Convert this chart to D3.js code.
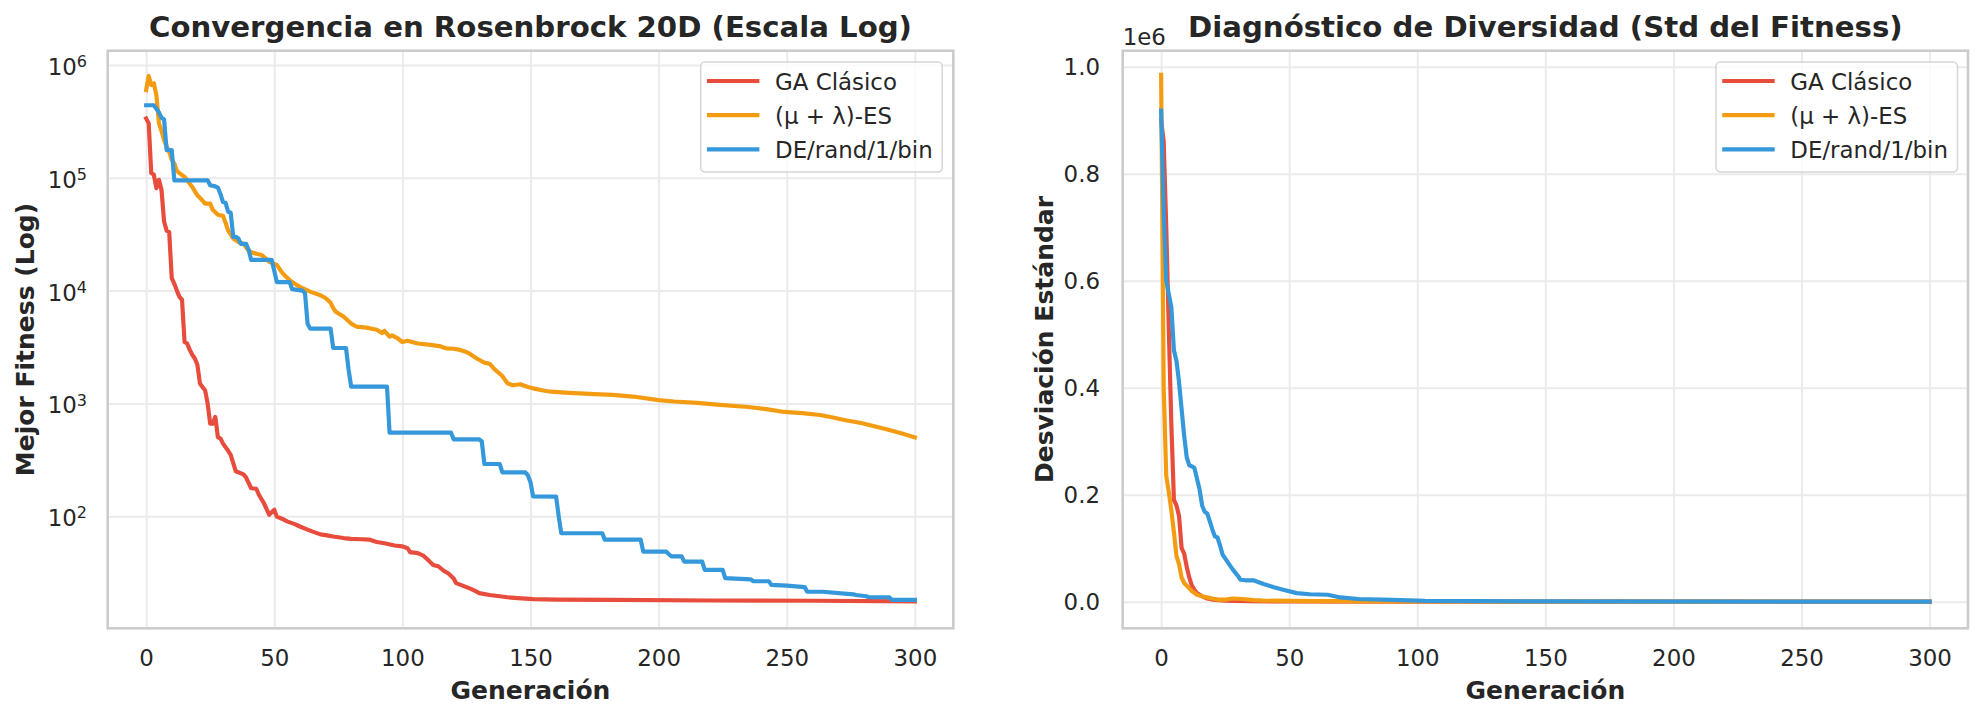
<!DOCTYPE html>
<html>
<head>
<meta charset="utf-8">
<script src="https://cdn.jsdelivr.net/npm/d3@7"></script>
<style>
  body { margin: 0; background: #fff; }
  text { font-family: "DejaVu Sans", sans-serif; fill: #262626; }
</style>
</head>
<body>
<div id="chart"></div>
<script>
// ---- datos ----
const series = ["GA Clásico", "(μ + λ)-ES", "DE/rand/1/bin"];
const colores = ["#e74c3c", "#f39c12", "#3498db"];

const xTicks = [0, 50, 100, 150, 200, 250, 300];
const logTicks = [1e2, 1e3, 1e4, 1e5, 1e6];
const logTickExp = ["2", "3", "4", "5", "6"];
const stdTicks = [0, 0.2, 0.4, 0.6, 0.8, 1.0];
const stdTickLabels = ["0.0", "0.2", "0.4", "0.6", "0.8", "1.0"];

// mejor fitness por generación [gen, valor]
const gaMejor = [[0,3.36e5],[1,3.04e5],[2,1.1e5],[3,1.07e5],[4,8.1e4],[5,9.6e4],[6,7.8e4],[7,4.1e4],[8,3.4e4],[9,3.3e4],[10,1.29e4],[11,1.15e4],[12,1.0e4],[13,8.8e3],[14,8.3e3],[15,3.5e3],[16,3.4e3],[17,3.0e3],[18,2.7e3],[19,2.5e3],[20,2.2e3],[21,1.5e3],[22,1.4e3],[23,1.31e3],[24,1.0e3],[25,660],[26,660],[27,760],[28,500],[29,490],[30,440],[32,380],[33,350],[35,250],[38,235],[39,220],[41,177],[43,175],[44,155],[46,130],[48,103],[50,114],[51,99],[53,95],[55,90],[58,85],[60,81],[63,76],[65,73],[68,69],[70,68],[73,66],[77,64],[80,63],[84,62.5],[87,62],[90,59],[93,57.5],[97,55],[100,54],[102,52],[103,48],[106,47],[108,45],[110,41],[112,37],[114,36],[116,33],[118,31],[120,28],[121,25.5],[123,24.5],[126,23],[128,22],[130,20.8],[134,20],[138,19.5],[141,19.1],[145,18.8],[151,18.4],[160,18.2],[182,18.1],[220,17.9],[260,17.8],[300,17.6]];
const esMejor = [[0,6.0e5],[1,8.0e5],[2,6.65e5],[3,6.9e5],[4,5.4e5],[5,3.04e5],[6,2.6e5],[7,2.16e5],[8,1.9e5],[9,1.7e5],[10,1.45e5],[11,1.34e5],[12,1.15e5],[13,1.1e5],[15,1.02e5],[16,9.5e4],[18,8.3e4],[20,7.0e4],[22,6.3e4],[23,5.9e4],[25,5.9e4],[26,5.2e4],[28,4.7e4],[30,4.6e4],[31,4.0e4],[32,3.4e4],[34,2.9e4],[36,2.7e4],[38,2.6e4],[40,2.25e4],[42,2.15e4],[45,2.07e4],[47,1.9e4],[48,1.8e4],[51,1.69e4],[53,1.45e4],[54,1.37e4],[56,1.24e4],[58,1.15e4],[60,1.08e4],[64,9.8e3],[68,9.1e3],[70,8.6e3],[72,7.8e3],[73,7.0e3],[74,6.5e3],[77,5.9e3],[80,5.1e3],[82,4.8e3],[86,4.7e3],[90,4.5e3],[92,4.2e3],[93,4.4e3],[95,3.9e3],[96,4.0e3],[98,3.8e3],[100,3.5e3],[102,3.6e3],[106,3.4e3],[111,3.3e3],[115,3.2e3],[117,3.08e3],[120,3.05e3],[122,3.0e3],[125,2.85e3],[126,2.78e3],[129,2.5e3],[132,2.3e3],[134,2.25e3],[136,2.0e3],[139,1.75e3],[141,1.51e3],[143,1.45e3],[146,1.48e3],[149,1.4e3],[151,1.36e3],[155,1.3e3],[158,1.27e3],[165,1.24e3],[175,1.21e3],[182,1.19e3],[190,1.15e3],[200,1.07e3],[206,1.04e3],[215,1.01e3],[224,970],[235,930],[242,890],[249,840],[256,820],[263,790],[268,750],[273,710],[279,670],[285,620],[290,580],[295,540],[300,500]];
const deMejor = [[0,4.4e5],[3,4.4e5],[4,4.1e5],[5,3.8e5],[6,3.4e5],[7,3.3e5],[8,1.76e5],[10,1.76e5],[11,9.5e4],[24,9.5e4],[25,8.6e4],[27,8.4e4],[28,8.2e4],[29,7.2e4],[30,6.1e4],[31,6.0e4],[32,5.0e4],[33,4.9e4],[34,3.0e4],[35,3.0e4],[36,2.9e4],[37,2.6e4],[39,2.6e4],[40,2.3e4],[41,1.87e4],[49,1.87e4],[50,1.5e4],[51,1.19e4],[56,1.19e4],[57,1.03e4],[61,1.0e4],[62,9.5e3],[63,5.1e3],[64,4.6e3],[72,4.6e3],[73,3.1e3],[78,3.1e3],[79,2.0e3],[80,1.41e3],[94,1.41e3],[95,550],[119,550],[120,480],[130,480],[131,460],[132,290],[138,290],[139,245],[148,245],[149,230],[150,200],[151,150],[160,149],[161,100],[162,70.6],[178,70.6],[179,62],[193,62],[194,48.5],[203,48.5],[204,46],[205,44],[209,44],[210,39.6],[217,39.6],[218,33.4],[225,33.4],[226,28.2],[236,27.5],[237,26.5],[243,26.5],[244,24.6],[250,24.2],[257,23.5],[258,21.4],[264,21.4],[276,20.3],[277,20],[281,19.5],[282,19.1],[290,19.1],[291,18.1],[300,18.1]];

// desviación estándar del fitness (unidades de 1e6)
const gaStd = [[0,0.90],[1,0.86],[2,0.70],[3,0.51],[4,0.33],[5,0.19],[6,0.18],[7,0.16],[8,0.10],[9,0.09],[10,0.065],[11,0.045],[12,0.03],[13,0.022],[14,0.016],[16,0.01],[18,0.006],[20,0.004],[25,0.002],[35,0.001],[50,0.0005],[100,0.0002],[300,0.0]];
const esStd = [[0,0.985],[1,0.40],[2,0.235],[3,0.205],[4,0.17],[5,0.13],[6,0.085],[7,0.07],[8,0.045],[9,0.035],[10,0.03],[12,0.02],[14,0.013],[17,0.009],[20,0.006],[22,0.004],[25,0.004],[28,0.006],[32,0.005],[36,0.003],[40,0.002],[60,0.001],[100,0.0003],[300,0.0]];
const deStd = [[0,0.918],[1,0.73],[2,0.60],[3,0.575],[4,0.55],[5,0.47],[6,0.45],[7,0.41],[8,0.36],[9,0.31],[10,0.27],[11,0.255],[12,0.253],[13,0.25],[14,0.23],[15,0.21],[16,0.18],[17,0.168],[18,0.165],[19,0.15],[20,0.135],[21,0.122],[22,0.12],[23,0.105],[24,0.088],[26,0.074],[28,0.06],[30,0.048],[31,0.041],[33,0.04],[36,0.04],[40,0.033],[44,0.027],[48,0.022],[53,0.016],[58,0.014],[65,0.013],[70,0.008],[77,0.005],[90,0.0035],[103,0.0015],[150,0.0005],[300,0.0]];

// ---- dibujo ----
const W = 1982, H = 718;
const FS = 22.9;
const svg = d3.select('#chart').append('svg')
  .attr('width', W).attr('height', H)
  .attr('viewBox', `0 0 ${W} ${H}`);

const paneles = [
  {
    id: 'izq', x0: 107.7, x1: 953.3, y0: 50.7, y1: 628.3,
    y: d3.scaleLog().domain([10.14, 1.34e6]),
    ticks: logTicks, datos: [gaMejor, esMejor, deMejor],
    titulo: 'Convergencia en Rosenbrock 20D (Escala Log)',
    yLabel: 'Mejor Fitness (Log)', yLabelX: 25, legX: 700.7
  },
  {
    id: 'der', x0: 1122.7, x1: 1968, y0: 50.7, y1: 628.3,
    y: d3.scaleLinear().domain([-0.04972, 1.02991]),
    ticks: stdTicks, datos: [gaStd, esStd, deStd],
    titulo: 'Diagnóstico de Diversidad (Std del Fitness)',
    yLabel: 'Desviación Estándar', yLabelX: 1044, legX: 1716
  }
];

paneles.forEach(p => {
  const x = d3.scaleLinear().domain([-15, 315]).range([p.x0, p.x1]);
  const y = p.y.range([p.y1, p.y0]);
  const g = svg.append('g');
  const alto = p.y1 - p.y0, ancho = p.x1 - p.x0;

  // rejilla
  g.append('g').attr('transform', `translate(0,${p.y1})`)
    .call(d3.axisBottom(x).tickValues(xTicks).tickSize(-alto).tickFormat(''))
    .call(s => s.select('.domain').remove())
    .call(s => s.selectAll('line').attr('stroke', '#ebebeb').attr('stroke-width', 2));
  g.append('g').attr('transform', `translate(${p.x0},0)`)
    .call(d3.axisLeft(y).tickValues(p.ticks).tickSize(-ancho).tickFormat(''))
    .call(s => s.select('.domain').remove())
    .call(s => s.selectAll('line').attr('stroke', '#ebebeb').attr('stroke-width', 2));

  // líneas
  g.append('clipPath').attr('id', 'clip-' + p.id)
    .append('rect').attr('x', p.x0).attr('y', p.y0).attr('width', ancho).attr('height', alto);
  const linea = d3.line().x(d => x(d[0])).y(d => y(d[1]));
  g.append('g').attr('clip-path', `url(#clip-${p.id})`)
    .selectAll('path').data(p.datos).enter().append('path')
    .attr('d', linea)
    .attr('fill', 'none')
    .attr('stroke', (d, i) => colores[i])
    .attr('stroke-width', 4.17)
    .attr('stroke-linejoin', 'round')
    .attr('stroke-linecap', 'square');

  // marco
  g.append('rect').attr('x', p.x0).attr('y', p.y0).attr('width', ancho).attr('height', alto)
    .attr('fill', 'none').attr('stroke', '#cccccc').attr('stroke-width', 2.6);

  // etiquetas de ejes
  g.append('g').attr('transform', `translate(0,${p.y1})`)
    .call(d3.axisBottom(x).tickValues(xTicks).tickSize(0).tickPadding(21.4))
    .call(s => s.select('.domain').remove())
    .call(s => s.selectAll('text').attr('font-size', FS).attr('font-family', null).attr('fill', null));

  if (p.id === 'izq') {
    const ax = g.append('g').attr('transform', `translate(${p.x0},0)`)
      .call(d3.axisLeft(y).tickValues(logTicks).tickSize(0).tickPadding(20.7).tickFormat(''))
      .call(s => s.select('.domain').remove());
    ax.selectAll('text').attr('dy', null).attr('font-size', FS).attr('font-family', null).attr('fill', null)
      .each(function(d, i) {
        const t = d3.select(this);
        t.append('tspan').attr('dy', 9.5).text('10');
        t.append('tspan').attr('dy', -7.8).attr('font-size', 16).text(logTickExp[i]);
      });
  } else {
    g.append('g').attr('transform', `translate(${p.x0},0)`)
      .call(d3.axisLeft(y).tickValues(stdTicks).tickSize(0).tickPadding(22.7)
        .tickFormat((d, i) => stdTickLabels[i]))
      .call(s => s.select('.domain').remove())
      .call(s => s.selectAll('text').attr('dy', '0.36em').attr('font-size', FS).attr('font-family', null).attr('fill', null));
    g.append('text').attr('x', p.x0).attr('y', 45).attr('font-size', FS).text('1e6');
  }

  // títulos
  const cx = (p.x0 + p.x1) / 2, cy = (p.y0 + p.y1) / 2;
  g.append('text').attr('x', cx).attr('y', 36.7)
    .attr('text-anchor', 'middle').attr('font-size', 29.2).attr('font-weight', 'bold')
    .text(p.titulo);
  g.append('text').attr('x', cx).attr('y', 699)
    .attr('text-anchor', 'middle').attr('font-size', 25).attr('font-weight', 'bold')
    .text('Generación');
  g.append('text').attr('transform', `translate(${p.yLabelX},${cy}) rotate(-90)`)
    .attr('dy', '0.36em')
    .attr('text-anchor', 'middle').attr('font-size', 25).attr('font-weight', 'bold')
    .text(p.yLabel);

  // leyenda
  const leg = g.append('g');
  leg.append('rect').attr('x', p.legX).attr('y', 62).attr('width', 241.5).attr('height', 110)
    .attr('rx', 4.5).attr('fill', '#fff').attr('fill-opacity', 0.8)
    .attr('stroke', '#cccccc').attr('stroke-opacity', 0.8).attr('stroke-width', 1.5);
  series.forEach((nombre, i) => {
    const ly = 81 + i * 34.2;
    leg.append('line').attr('x1', p.legX + 8.3).attr('x2', p.legX + 56.6)
      .attr('y1', ly).attr('y2', ly)
      .attr('stroke', colores[i]).attr('stroke-width', 4.17).attr('stroke-linecap', 'square');
    leg.append('text').attr('x', p.legX + 74.3).attr('y', ly).attr('dy', '0.38em')
      .attr('font-size', FS).text(nombre);
  });
});
</script>
</body>
</html>
